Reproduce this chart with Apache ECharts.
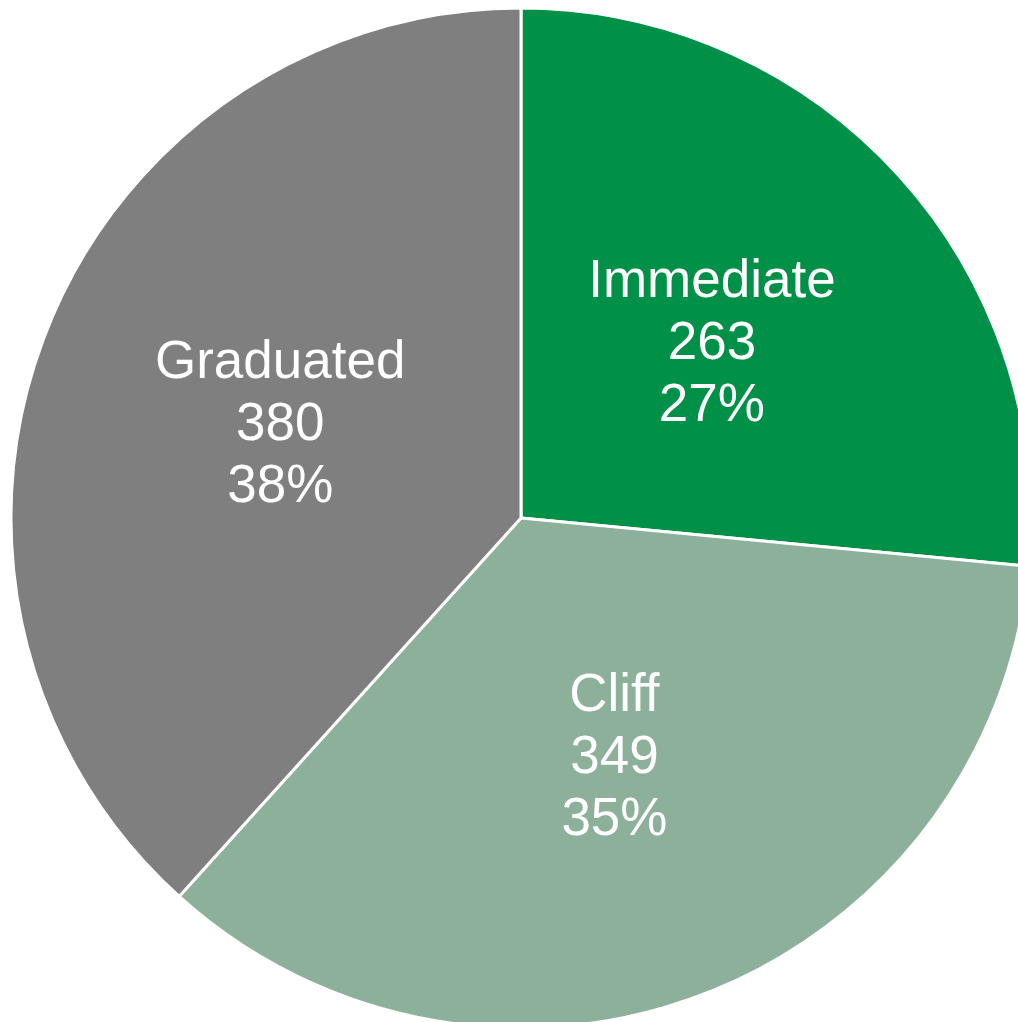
<!DOCTYPE html>
<html>
<head>
<meta charset="utf-8">
<style>
  html, body { margin: 0; padding: 0; background: #ffffff; }
  #chart { width: 1018px; height: 1022px; }
</style>
<script src="https://cdn.jsdelivr.net/npm/echarts@6/dist/echarts.min.js"></script>
</head>
<body>
<div id="chart"></div>
<script>
// Vesting schedule breakdown
const categories = ['Immediate', 'Cliff', 'Graduated'];
const counts = [263, 349, 380];
const colors = ['#009047', '#8db09a', '#7f7f7f'];

const chart = echarts.init(document.getElementById('chart'), null, { renderer: 'canvas' });

chart.setOption({
  animation: false,
  backgroundColor: '#ffffff',
  series: [{
    type: 'pie',
    center: [521, 518],
    radius: [0, 510],
    startAngle: 90,
    clockwise: true,
    silent: true,
    data: categories.map((name, i) => ({
      name: name,
      value: counts[i],
      itemStyle: { color: colors[i] }
    })),
    itemStyle: { borderColor: '#ffffff', borderWidth: 3 },
    label: {
      show: true,
      position: 'inside',
      color: '#ffffff',
      fontFamily: 'Liberation Sans, Arial, sans-serif',
      fontSize: 53,
      lineHeight: 62,
      align: 'center',
      formatter: p => p.name + '\n' + p.value + '\n' + Math.round(p.percent) + '%'
    },
    labelLine: { show: false }
  }]
});
</script>
</body>
</html>
